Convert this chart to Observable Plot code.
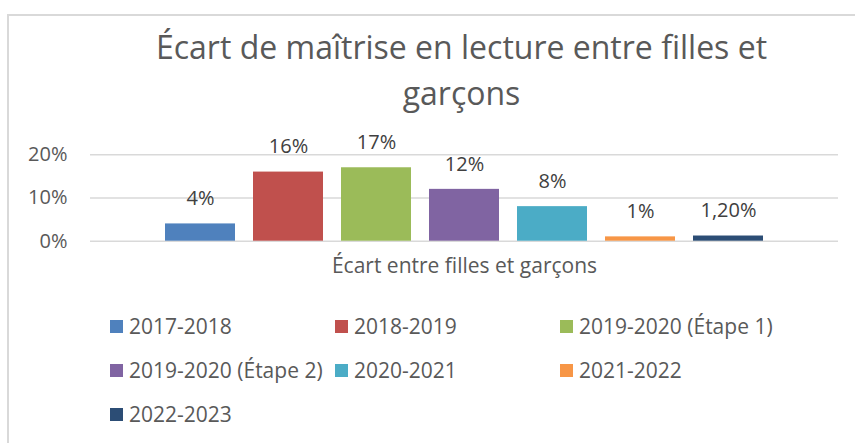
<!DOCTYPE html>
<html>
<head>
<meta charset="utf-8">
<script src="https://cdn.jsdelivr.net/npm/d3@7"></script>
<script src="https://cdn.jsdelivr.net/npm/@observablehq/plot@0.6"></script>
<style>
  html, body { margin: 0; padding: 0; background: #fff; width: 855px; height: 443px; overflow: hidden; }
  #frame { position: absolute; left: 7px; top: 14px; width: 900px; height: 500px; border: 2px solid #d9d9d9; box-sizing: border-box; }
  #title { position: absolute; left: 0; top: 24px; width: 923px; text-align: center; font-family: "Open Sans", sans-serif; font-size: 32px; line-height: 46px; color: #595959; }
  #chart { position: absolute; left: 0; top: 130px; }
  #legend { position: absolute; left: 110px; top: 304px; display: grid; grid-template-columns: 225px 225px 225px; grid-auto-rows: 44px; font-family: "Open Sans", sans-serif; font-size: 21px; color: #595959; }
  .item { display: flex; align-items: center; white-space: nowrap; }
  .sw { width: 13px; height: 13px; margin-right: 6px; flex: none; }
</style>
</head>
<body>
<div id="frame"></div>
<div id="title">Écart de maîtrise en lecture entre filles et<br>garçons</div>
<div id="chart"></div>
<div id="legend"></div>
<script>
const series = ["2017-2018", "2018-2019", "2019-2020 (Étape 1)", "2019-2020 (Étape 2)", "2020-2021", "2021-2022", "2022-2023"];
const values = [0.04, 0.16, 0.17, 0.12, 0.08, 0.01, 0.012];
const valueLabels = ["4%", "16%", "17%", "12%", "8%", "1%", "1,20%"];
const colors = ["#4F81BD", "#C0504D", "#9BBB59", "#8064A2", "#4BACC6", "#F79646", "#2C4D75"];
const category = "Écart entre filles et garçons";
const yTicks = [0, 0.1, 0.2];

const data = series.map((s, i) => ({series: s, value: values[i], label: valueLabels[i]}));

const plot = Plot.plot({
  width: 855,
  height: 155,
  marginLeft: 90,
  marginRight: 17,
  marginTop: 24.3,
  marginBottom: 44.3,
  style: {fontFamily: "Open Sans, sans-serif", fontSize: "20px", color: "#595959", background: "transparent", overflow: "visible"},
  x: {domain: series, paddingInner: 0.2, paddingOuter: 0.85, axis: null},
  y: {domain: [0, 0.2], axis: null},
  color: {domain: series, range: colors},
  marks: [
    Plot.gridY(yTicks, {stroke: "#d9d9d9", strokeOpacity: 1, strokeWidth: 1.5}),
    Plot.axisY(yTicks, {tickSize: 0, tickPadding: 23, tickFormat: d3.format(".0%"), fontSize: 20, fill: "#595959", label: null}),
    Plot.barY(data, {x: "series", y: "value", fill: "series"}),
    Plot.text(data, {x: "series", y: "value", text: "label", dy: -25, fontSize: 20, fill: "#404040"}),
    Plot.text([category], {frameAnchor: "bottom", dy: 32, text: d => d, fontSize: 21, fill: "#595959"})
  ]
});
document.getElementById("chart").appendChild(plot);

const legend = document.getElementById("legend");
series.forEach((s, i) => {
  const it = document.createElement("div");
  it.className = "item";
  const sw = document.createElement("span");
  sw.className = "sw";
  sw.style.background = colors[i];
  it.appendChild(sw);
  it.appendChild(document.createTextNode(s));
  legend.appendChild(it);
});
</script>
</body>
</html>
